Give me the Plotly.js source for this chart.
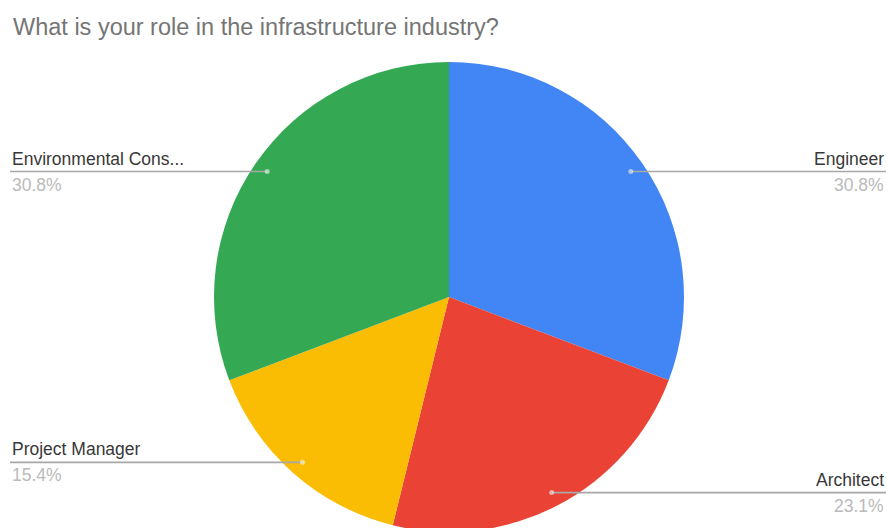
<!DOCTYPE html>
<html>
<head>
<meta charset="utf-8">
<script src="https://cdn.plot.ly/plotly-3.0.1.min.js"></script>
<style>
html,body{margin:0;padding:0;overflow:hidden;background:#fff;}
#chart{width:887px;height:540px;}
</style>
</head>
<body>
<div id="chart"></div>
<script>
// ---- data ----
const categories = ["Engineer", "Architect", "Project Manager", "Environmental Consultant"];
const displayLabels = ["Engineer", "Architect", "Project Manager", "Environmental Cons..."];
const responses = [4, 3, 2, 4];
const sliceColors = ["#4285F4", "#EA4335", "#FBBC04", "#34A853"];
const chartTitle = "What is your role in the infrastructure industry?";

// ---- layout geometry (pixels) ----
const W = 887, H = 540;
const cx = 449, cy = 297, R = 235;
const px = x => x / W;
const py = y => 1 - y / H;

const total = responses.reduce((a, b) => a + b, 0);
const shapes = [];
const annotations = [];
let cum = 0;
const labelFont = "Liberation Sans, Arial, sans-serif";
responses.forEach((v, i) => {
  const th = 2 * Math.PI * (cum + v / 2) / total;
  cum += v;
  const r = 0.94 * R;
  const dx = cx + r * Math.sin(th);
  const dy = cy - r * Math.cos(th);
  const right = Math.sin(th) >= 0;
  const edge = right ? 886 : 10;
  shapes.push({type: "line", xref: "paper", yref: "paper",
    x0: px(dx), x1: px(edge), y0: py(dy), y1: py(dy),
    line: {color: "#a8a8a8", width: 1.6}, layer: "above"});
  shapes.push({type: "circle", xref: "paper", yref: "paper",
    xsizemode: "pixel", ysizemode: "pixel", xanchor: px(dx), yanchor: py(dy),
    x0: -2.5, x1: 2.5, y0: -2.5, y1: 2.5,
    fillcolor: "rgba(255,255,255,0.55)", line: {width: 0}, layer: "above"});
  const tx = right ? 885 : 11;
  annotations.push({xref: "paper", yref: "paper", x: px(tx), y: py(dy - 2),
    xanchor: right ? "right" : "left", yanchor: "bottom", showarrow: false,
    text: displayLabels[i], borderpad: 0,
    font: {family: labelFont, size: 17.5, color: "#383838"}});
  annotations.push({xref: "paper", yref: "paper", x: px(tx), y: py(dy + 2),
    xanchor: right ? "right" : "left", yanchor: "top", showarrow: false,
    text: (v / total * 100).toFixed(1) + "%", borderpad: 0,
    font: {family: labelFont, size: 17.5, color: "#bababa"}});
});

const trace = {
  type: "pie",
  labels: categories,
  values: responses,
  sort: false,
  direction: "clockwise",
  rotation: 0,
  textinfo: "none",
  hoverinfo: "label+percent",
  marker: {colors: sliceColors, line: {width: 0}},
  domain: {x: [px(cx - R), px(cx + R)], y: [py(cy + R), py(cy - R)]},
  showlegend: false
};

const layout = {
  width: W, height: H,
  margin: {l: 0, r: 0, t: 0, b: 0},
  paper_bgcolor: "#ffffff",
  title: {text: chartTitle, xref: "container", yref: "container",
    x: 13 / W, xanchor: "left", y: 1 - 27 / H, yanchor: "middle",
    font: {family: labelFont, size: 23.5, color: "#757575"}},
  shapes: shapes,
  annotations: annotations,
  showlegend: false
};

Plotly.newPlot("chart", [trace], layout, {displayModeBar: false, staticPlot: true});
</script>
</body>
</html>
